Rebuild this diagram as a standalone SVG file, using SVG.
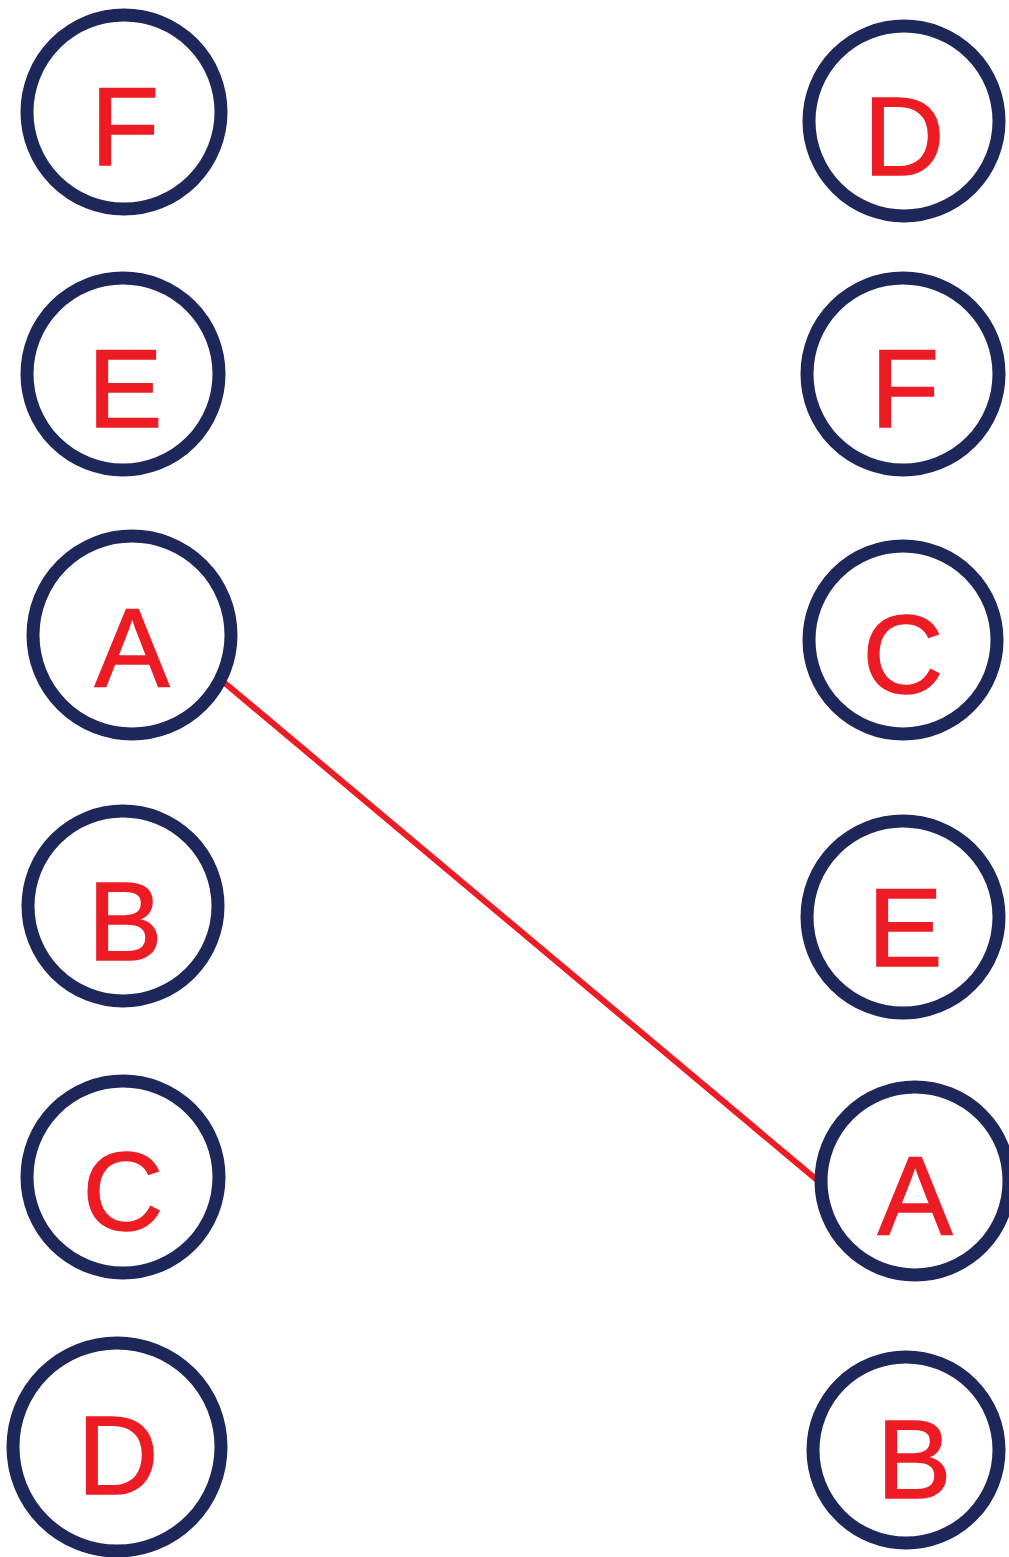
<svg xmlns="http://www.w3.org/2000/svg" width="1009" height="1557" viewBox="0 0 1009 1557">
<style>
.n{fill:#fff;stroke:#1e275a;stroke-width:13}
.t{font-family:"Liberation Sans",Arial,sans-serif;font-size:112px;fill:#ed1c24;stroke:#ed1c24;stroke-width:1.5;text-anchor:middle}
.e{stroke:#ed1c24;stroke-width:6;fill:none}
</style>
<rect width="1009" height="1557" fill="#fff"/>
<g id="connectors">
<line class="e" x1="220" y1="679" x2="823" y2="1185"/>
</g>
<g id="L-F"><circle class="n" cx="124" cy="112" r="97"/><text class="t" x="125" y="165">F</text></g>
<g id="L-E"><circle class="n" cx="123" cy="374" r="96"/><text class="t" x="125" y="427">E</text></g>
<g id="L-A"><circle class="n" cx="132" cy="635" r="99"/><text class="t" x="132" y="686">A</text></g>
<g id="L-B"><circle class="n" cx="123" cy="906" r="95"/><text class="t" x="125" y="960">B</text></g>
<g id="L-C"><circle class="n" cx="123" cy="1177" r="96"/><text class="t" x="123" y="1230">C</text></g>
<g id="L-D"><circle class="n" cx="117" cy="1447" r="104"/><text class="t" x="118" y="1494">D</text></g>
<g id="R-D"><circle class="n" cx="904" cy="121" r="95"/><text class="t" x="904" y="175">D</text></g>
<g id="R-F"><circle class="n" cx="903" cy="374" r="96"/><text class="t" x="905" y="427">F</text></g>
<g id="R-C"><circle class="n" cx="903" cy="640" r="94"/><text class="t" x="903" y="693">C</text></g>
<g id="R-E"><circle class="n" cx="903" cy="917" r="96"/><text class="t" x="905" y="966">E</text></g>
<g id="R-A"><circle class="n" cx="915" cy="1181" r="94"/><text class="t" x="915" y="1234">A</text></g>
<g id="R-B"><circle class="n" cx="906" cy="1450" r="93"/><text class="t" x="914" y="1498">B</text></g>
</svg>
